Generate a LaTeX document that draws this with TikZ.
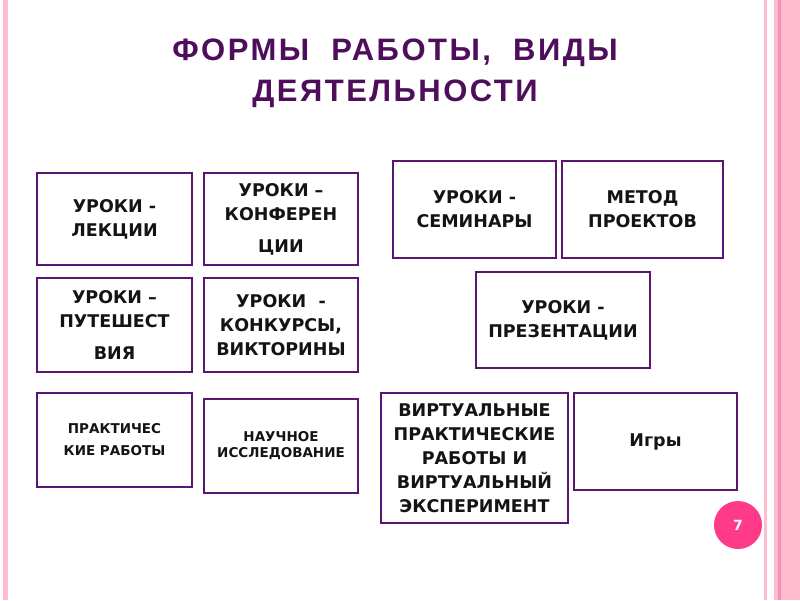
\documentclass[tikz,border=0pt]{standalone}
\usepackage{fontspec}
\setmainfont{DejaVu Sans}
\newfontfamily\titlefont[LetterSpace=8]{Liberation Sans}
\usepackage{tikz}
\definecolor{violetTitre}{RGB}{78,14,92}
\definecolor{violetCadre}{RGB}{88,22,112}
\definecolor{roseClair}{RGB}{255,188,206}
\definecolor{roseMoyen}{RGB}{242,146,180}
\definecolor{roseVif}{RGB}{255,58,136}

\begin{document}
\begin{tikzpicture}[x=1pt, y=-1pt,
  cadre/.style={draw=violetCadre, line width=2.6pt, fill=white, align=center,
                text=black!92, inner sep=0pt},
  grand/.style={font=\bfseries\fontsize{17.5}{24}\selectfont},
  petit/.style={font=\bfseries\fontsize{13.5}{22}\selectfont}]

\useasboundingbox (0,0) rectangle (800,600);
\fill[white] (0,0) rectangle (800,600);

\fill[roseClair] (3,0) rectangle (8,600);
\fill[roseClair] (764,0) rectangle (767,600);
\fill[roseClair] (774,0) rectangle (800,600);
\fill[roseMoyen] (778,0) rectangle (781,600);

\node[text=violetTitre, align=center, inner sep=0pt,
      font=\titlefont\bfseries\fontsize{31}{41}\selectfont] (titre) at (395,73)
  {ФОРМЫ\ \ РАБОТЫ,\ \ ВИДЫ\\ДЕЯТЕЛЬНОСТИ};

\node[cadre, grand, minimum width=155, minimum height=92] (lecons) at (114.5,219)
  {УРОКИ -\\ЛЕКЦИИ};
\node[cadre, grand, minimum width=154, minimum height=92] (conferences) at (281,219)
  {УРОКИ –\\КОНФЕРЕН\\[8pt]ЦИИ};
\node[cadre, grand, minimum width=155, minimum height=94] (voyages) at (114.5,325)
  {УРОКИ –\\ПУТЕШЕСТ\\[8pt]ВИЯ};
\node[cadre, grand, minimum width=154, minimum height=94] (concours) at (281,325)
  {УРОКИ\ \ -\\КОНКУРСЫ,\\ВИКТОРИНЫ};
\node[cadre, petit, minimum width=155, minimum height=94] (pratiques) at (114.5,440)
  {ПРАКТИЧЕС\\КИЕ РАБОТЫ};
\node[cadre, font=\bfseries\fontsize{13.5}{16}\selectfont,
      minimum width=154, minimum height=94] (recherche) at (281,446)
  {НАУЧНОЕ\\ИССЛЕДОВАНИЕ};

\node[cadre, grand, minimum width=163, minimum height=97] (seminaires) at (474.5,209.5)
  {УРОКИ -\\СЕМИНАРЫ};
\node[cadre, grand, minimum width=161, minimum height=97] (projets) at (642.5,209.5)
  {МЕТОД\\ПРОЕКТОВ};
\node[cadre, grand, minimum width=174, minimum height=96] (presentations) at (563,320)
  {УРОКИ -\\ПРЕЗЕНТАЦИИ};
\node[cadre, grand, minimum width=187, minimum height=130] (virtuel) at (474.5,458)
  {ВИРТУАЛЬНЫЕ\\ПРАКТИЧЕСКИЕ\\РАБОТЫ И\\ВИРТУАЛЬНЫЙ\\ЭКСПЕРИМЕНТ};
\node[cadre, grand, minimum width=163, minimum height=97] (jeux) at (655.5,441.5)
  {Игры};

\node[circle, fill=roseVif, minimum size=48, inner sep=0pt, text=white,
      font=\bfseries\fontsize{14}{14}\selectfont] (numero) at (738,525) {7};

\end{tikzpicture}
\end{document}
